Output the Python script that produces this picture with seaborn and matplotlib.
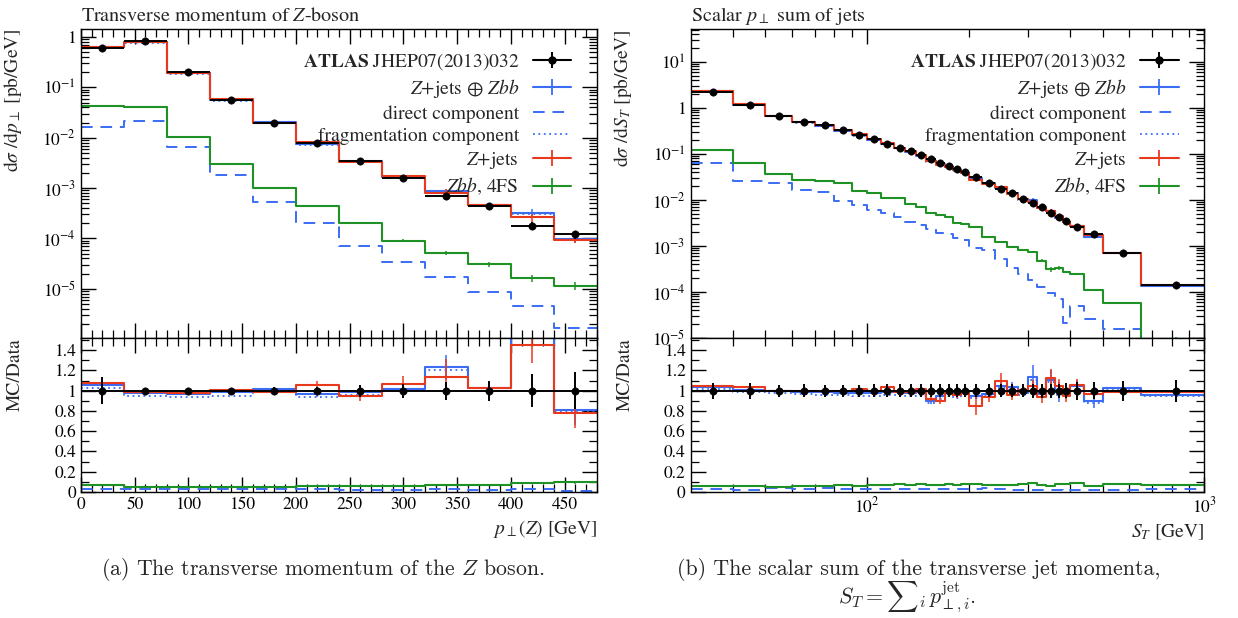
import numpy as np
import matplotlib
matplotlib.use("Agg")
import matplotlib.pyplot as plt
from matplotlib.lines import Line2D
from matplotlib.ticker import FuncFormatter, MultipleLocator, LogLocator, NullFormatter, FixedLocator
import seaborn as sns

# ---------------- left panel: pT(Z), 40 GeV bins ----------------
pt_edges = [0, 40, 80, 120, 160, 200, 240, 280, 320, 360, 400, 440, 480]
pt_data = [0.60, 0.82, 0.20, 0.057, 0.020, 0.0078, 0.0035, 0.0016, 7.0e-4, 4.5e-4, 1.8e-4, 1.2e-4]
pt_data_err = [0.13, 0.03, 0.02, 0.02, 0.04, 0.04, 0.06, 0.07, 0.09, 0.10, 0.16, 0.18]
pt_zjets_ratio = [1.075, 0.99, 0.98, 1.01, 0.99, 1.06, 0.945, 1.07, 1.137, 1.03, 1.45, 0.78]
pt_zjets_err = [0.01, 0.01, 0.01, 0.01, 0.02, 0.04, 0.05, 0.07, 0.18, 0.05, 0.18, 0.15]
pt_comb_ratio = [1.06, 0.98, 0.97, 0.99, 1.02, 0.965, 0.985, 1.02, 1.23, 1.03, 1.75, 0.81]
pt_comb_err = [0.01, 0.01, 0.01, 0.01, 0.02, 0.03, 0.03, 0.04, 0.12, 0.06, 0.20, 0.15]
pt_frag_ratio = [1.03, 0.95, 0.94, 0.95, 1.0, 0.935, 0.96, 1.01, 1.2, 1.0, 1.72, 0.79]
pt_direct = [0.0163, 0.0215, 0.0065, 0.0018, 5.4e-4, 2.0e-4, 7.0e-5, 3.4e-5, 1.74e-5, 8.8e-6, 4.6e-6, 1.63e-6]
pt_zbb = [0.0424, 0.0404, 0.0103, 0.00307, 1.02e-3, 4.5e-4, 2.06e-4, 9.0e-5, 5.1e-5, 3.07e-5, 1.61e-5, 1.15e-5]
pt_zbb_err = [0.01, 0.01, 0.02, 0.02, 0.03, 0.04, 0.05, 0.06, 0.08, 0.10, 0.15, 0.18]

# ---------------- right panel: S_T ----------------
st_edges = [30, 40, 50, 60, 70, 80, 90, 100, 110, 120, 130, 140, 150, 160, 170, 180, 190, 200,
            220, 240, 260, 280, 300, 320, 340, 360, 380, 400, 440, 500, 650, 1000]
st_data = [2.22, 1.16, 0.67, 0.49, 0.42, 0.328, 0.262, 0.209, 0.168, 0.138, 0.115, 0.093, 0.077,
           0.064, 0.054, 0.046, 0.0396, 0.0320, 0.0238, 0.0175, 0.0139, 0.0106, 0.0088, 0.0070,
           0.0052, 0.0042, 0.0035, 0.00262, 0.00178, 7.0e-4, 1.42e-4]
st_data_err = [0.08, 0.08, 0.06, 0.065, 0.06, 0.06, 0.06, 0.065, 0.065, 0.065, 0.065, 0.065, 0.065,
               0.065, 0.065, 0.065, 0.065, 0.065, 0.065, 0.065, 0.065, 0.065, 0.07, 0.07, 0.07,
               0.07, 0.075, 0.09, 0.085, 0.10, 0.11]
st_zjets_ratio = [1.05, 1.036, 1.0, 1.0, 1.0, 1.0, 1.015, 1.0, 1.033, 0.99, 0.99, 1.02, 0.92, 0.90,
                  0.977, 0.96, 0.99, 0.846, 0.935, 1.10, 0.96, 1.01, 1.05, 0.935, 1.124, 1.05,
                  0.95, 1.06, 0.967, 0.99, 0.985]
st_zjets_err = [0.01, 0.01, 0.01, 0.01, 0.01, 0.01, 0.01, 0.01, 0.015, 0.015, 0.015, 0.02, 0.02,
                0.03, 0.02, 0.03, 0.03, 0.09, 0.05, 0.07, 0.05, 0.05, 0.06, 0.06, 0.09, 0.07,
                0.06, 0.06, 0.05, 0.04, 0.04]
st_comb_ratio = [1.036, 1.01, 0.995, 0.99, 0.985, 0.98, 0.975, 0.977, 0.987, 0.987, 0.974, 0.987,
                 0.90, 0.944, 0.974, 0.954, 0.993, 0.95, 0.97, 1.05, 1.033, 0.987, 1.13, 0.987,
                 1.108, 0.984, 0.967, 1.042, 0.90, 1.03, 0.96]
st_comb_err = [0.01, 0.01, 0.01, 0.01, 0.01, 0.01, 0.01, 0.01, 0.015, 0.015, 0.02, 0.02, 0.03,
               0.02, 0.02, 0.03, 0.03, 0.03, 0.03, 0.05, 0.05, 0.05, 0.12, 0.05, 0.10, 0.10,
               0.05, 0.06, 0.07, 0.04, 0.04]
st_frag_ratio = [1.015, 0.99, 0.975, 0.965, 0.96, 0.955, 0.95, 0.95, 0.96, 0.96, 0.95, 0.96,
                 0.875, 0.92, 0.95, 0.93, 0.965, 0.925, 0.945, 1.025, 1.01, 0.96, 1.105, 0.965,
                 1.085, 0.96, 0.95, 1.0, 0.88, 1.01, 0.945]
st_direct = [0.062, 0.0255, 0.0235, 0.0168, 0.0150, 0.0094, 0.0077, 0.0062, 0.0051, 0.0042,
             0.0033, 0.0028, 0.0023, 0.0019, 0.0018, 0.00148, 0.00135, 8.9e-4, 8.2e-4, 5.2e-4,
             3.3e-4, 2.5e-4, 1.8e-4, 1.3e-4, 9.6e-5, 7.2e-5, 2.1e-5, 4.9e-5, 2.65e-5, 1.6e-5, 3.5e-6]
st_zbb = [0.122, 0.064, 0.036, 0.0275, 0.0255, 0.023, 0.0158, 0.0142, 0.0112, 0.0110, 0.0080,
          0.0070, 0.0053, 0.0046, 0.0043, 0.0032, 0.0030, 0.00264, 0.0016, 0.00124, 9.7e-4,
          8.2e-4, 7.5e-4, 4.8e-4, 3.1e-4, 3.3e-4, 2.75e-4, 2.45e-4, 1.1e-4, 5.8e-5, 9.5e-6]
st_zbb_err = [0.01, 0.01, 0.01, 0.01, 0.01, 0.01, 0.015, 0.015, 0.015, 0.02, 0.02, 0.02, 0.02,
              0.03, 0.03, 0.03, 0.03, 0.03, 0.04, 0.04, 0.05, 0.05, 0.05, 0.06, 0.12, 0.10,
              0.06, 0.06, 0.06, 0.05, 0.10]

RED = '#e8391d'
BLUE = '#3a6cf4'
GREEN = '#1f9226'

sns.set_style('ticks')
plt.rcParams['font.family'] = ['STIXGeneral', 'DejaVu Serif']
plt.rcParams['mathtext.fontset'] = 'stix'
plt.rcParams['xtick.direction'] = 'in'
plt.rcParams['ytick.direction'] = 'in'
plt.rcParams['axes.linewidth'] = 1.0
plt.rcParams['axes.edgecolor'] = 'black'


def step(ax, edges, vals, color, ls='-', lw=1.5):
    y = np.append(vals, vals[-1])
    sns.lineplot(x=np.asarray(edges, float), y=y, drawstyle='steps-post', color=color,
                 linestyle=ls, lw=lw, ax=ax, legend=False, sort=False, estimator=None,
                 errorbar=None)


def logfmt(v, pos):
    k = int(round(np.log10(v)))
    if k == 0:
        return '1'
    return r'$10^{%d}$' % k


def style_ticks(ax):
    ax.tick_params(which='both', top=True, right=True, direction='in', colors='black',
                   labelsize=12.5)
    ax.tick_params(which='major', length=11, width=1.0)
    ax.tick_params(which='minor', length=5.5, width=0.9)


def draw(ax, axr, edges, data, derr, zj_r, zj_e, cb_r, cb_e, fr_r, direct, zbb, zbb_e, logx):
    edges = np.asarray(edges, float)
    data = np.asarray(data)
    cen = 0.5 * (edges[1:] + edges[:-1])
    hw = 0.5 * (edges[1:] - edges[:-1])
    zj = data * np.asarray(zj_r)
    cb = data * np.asarray(cb_r)
    fr = data * np.asarray(fr_r)
    direct = np.asarray(direct)
    zbb = np.asarray(zbb)

    # main panel
    step(ax, edges, fr, BLUE, ls=(0, (1, 2)), lw=1.3)
    step(ax, edges, direct, BLUE, ls=(0, (6, 4)), lw=1.4)
    step(ax, edges, zbb, GREEN)
    ax.errorbar(cen, zbb, yerr=zbb * np.asarray(zbb_e), fmt='none', ecolor=GREEN, elinewidth=1.1)
    step(ax, edges, cb, BLUE)
    ax.errorbar(cen, cb, yerr=cb * np.asarray(cb_e), fmt='none', ecolor=BLUE, elinewidth=1.1)
    step(ax, edges, zj, RED)
    ax.errorbar(cen, zj, yerr=zj * np.asarray(zj_e), fmt='none', ecolor=RED, elinewidth=1.1)
    ax.errorbar(cen, data, xerr=hw, yerr=data * np.asarray(derr), fmt='none', ecolor='black',
                elinewidth=1.4, zorder=6)
    sns.scatterplot(x=cen, y=data, color='black', s=28, edgecolor='black', ax=ax, zorder=7,
                    legend=False)

    # ratio panel
    one = np.ones_like(data)
    step(axr, edges, fr_r, BLUE, ls=(0, (1, 2)), lw=1.3)
    step(axr, edges, direct / data, BLUE, ls=(0, (6, 4)), lw=1.4)
    step(axr, edges, zbb / data, GREEN)
    axr.errorbar(cen, zbb / data, yerr=zbb / data * np.asarray(zbb_e), fmt='none', ecolor=GREEN,
                 elinewidth=1.1)
    step(axr, edges, cb_r, BLUE)
    axr.errorbar(cen, cb_r, yerr=np.asarray(cb_e), fmt='none', ecolor=BLUE, elinewidth=1.1)
    step(axr, edges, zj_r, RED)
    axr.errorbar(cen, zj_r, yerr=np.asarray(zj_e), fmt='none', ecolor=RED, elinewidth=1.1)
    axr.errorbar(cen, one, xerr=hw, yerr=np.asarray(derr), fmt='none', ecolor='black',
                 elinewidth=1.4, zorder=6)
    sns.scatterplot(x=cen, y=one, color='black', s=28, edgecolor='black', ax=axr, zorder=7,
                    legend=False)

    if logx:
        ax.set_xscale('log')
        axr.set_xscale('log')
    ax.set_yscale('log')
    for a in (ax, axr):
        a.set_xlim(edges[0], edges[-1])
        style_ticks(a)
    ax.yaxis.set_major_locator(LogLocator(base=10, numticks=20))
    ax.yaxis.set_minor_locator(LogLocator(base=10, subs=np.arange(2, 10), numticks=100))
    ax.yaxis.set_major_formatter(FuncFormatter(logfmt))
    ax.yaxis.set_minor_formatter(NullFormatter())
    ax.tick_params(axis='x', which='both', labelbottom=False)
    ax.set_xlabel('')
    axr.set_ylim(0, 1.52)
    axr.yaxis.set_major_locator(MultipleLocator(0.2))
    axr.yaxis.set_minor_locator(MultipleLocator(0.1))
    axr.yaxis.set_major_formatter(FuncFormatter(lambda v, p: '%g' % round(v, 2)))
    if logx:
        for a in (ax, axr):
            a.xaxis.set_major_locator(FixedLocator([100, 1000]))
            a.xaxis.set_minor_locator(FixedLocator([40, 50, 60, 70, 80, 90, 200, 300, 400,
                                                    500, 600, 700, 800, 900]))
            a.xaxis.set_minor_formatter(NullFormatter())
        axr.xaxis.set_major_formatter(FuncFormatter(logfmt))
    else:
        for a in (ax, axr):
            a.xaxis.set_major_locator(MultipleLocator(50))
            a.xaxis.set_minor_locator(MultipleLocator(10))


fig = plt.figure(figsize=(12.38, 6.18), dpi=100)
axL = fig.add_axes([0.0654, 0.4531, 0.4168, 0.5])
axLr = fig.add_axes([0.0654, 0.2039, 0.4168, 0.2492])
axR = fig.add_axes([0.5578, 0.4531, 0.4150, 0.5])
axRr = fig.add_axes([0.5578, 0.2039, 0.4150, 0.2492])

draw(axL, axLr, pt_edges, pt_data, pt_data_err, pt_zjets_ratio, pt_zjets_err, pt_comb_ratio,
     pt_comb_err, pt_frag_ratio, pt_direct, pt_zbb, pt_zbb_err, logx=False)
draw(axR, axRr, st_edges, st_data, st_data_err, st_zjets_ratio, st_zjets_err, st_comb_ratio,
     st_comb_err, st_frag_ratio, st_direct, st_zbb, st_zbb_err, logx=True)

axL.set_ylim(1.05e-6, 1.45)
axR.set_ylim(1e-5, 52)

axL.set_title(r'Transverse momentum of $Z$-boson', loc='left', fontsize=14.5, pad=6)
axR.set_title(r'Scalar $p_\perp$ sum of jets', loc='left', fontsize=14.5, pad=6)
axL.set_ylabel(r'd$\sigma$ /d$p_\perp$ [pb/GeV]', loc='top', fontsize=14)
axR.set_ylabel(r'd$\sigma$ /d$S_T$ [pb/GeV]', loc='top', fontsize=14)
axLr.set_ylabel('MC/Data', loc='top', fontsize=14)
axRr.set_ylabel('MC/Data', loc='top', fontsize=14)
axL.yaxis.set_label_coords(-0.11, 1.0)
axLr.yaxis.set_label_coords(-0.11, 1.0)
axR.yaxis.set_label_coords(-0.11, 1.0)
axRr.yaxis.set_label_coords(-0.11, 1.0)
axLr.set_xlabel(r'$p_\perp(Z)$ [GeV]', loc='right', fontsize=14)
axRr.set_xlabel(r'$S_T$ [GeV]', loc='right', fontsize=14)

handles = [
    (Line2D([], [], color='black', lw=1.5, marker='o', ms=5),
     Line2D([], [], color='black', lw=0, marker='|', ms=12, mew=1.4)),
    Line2D([], [], color=BLUE, lw=1.5, marker='|', ms=12, mew=1.3),
    Line2D([], [], color=BLUE, lw=1.4, ls=(0, (6, 4))),
    Line2D([], [], color=BLUE, lw=1.3, ls=(0, (1, 2))),
    Line2D([], [], color=RED, lw=1.5, marker='|', ms=12, mew=1.3),
    Line2D([], [], color=GREEN, lw=1.5, marker='|', ms=12, mew=1.3),
]
labels = [r'$\mathbf{ATLAS}$ JHEP07(2013)032', r'$Z$+jets $\oplus$ $Zbb$', 'direct component',
          'fragmentation component', r'$Z$+jets', r'$Zbb$, 4FS']
for a in (axL, axR):
    a.legend(handles, labels, loc='upper right', bbox_to_anchor=(0.958, 0.94), frameon=False,
             markerfirst=False, handlelength=2.0, handletextpad=0.7, fontsize=14,
             labelspacing=0.25, borderaxespad=0, borderpad=0.2, numpoints=1)

fig.text(0.261, 0.078, r'(a) The transverse momentum of the $Z$ boson.', ha='center',
         va='center', family='cmr10', math_fontfamily='cm', fontsize=15.7)
fig.text(0.742, 0.078, r'(b) The scalar sum of the transverse jet momenta,', ha='center',
         va='center', family='cmr10', math_fontfamily='cm', fontsize=15.8)
fig.text(0.733, 0.034, r'$S_T = \sum{}_i\, p_{\perp,i}^{\rm jet}$.', ha='center', va='center',
         family='cmr10', math_fontfamily='cm', fontsize=15.8)

fig.savefig('out.png', dpi=100)
